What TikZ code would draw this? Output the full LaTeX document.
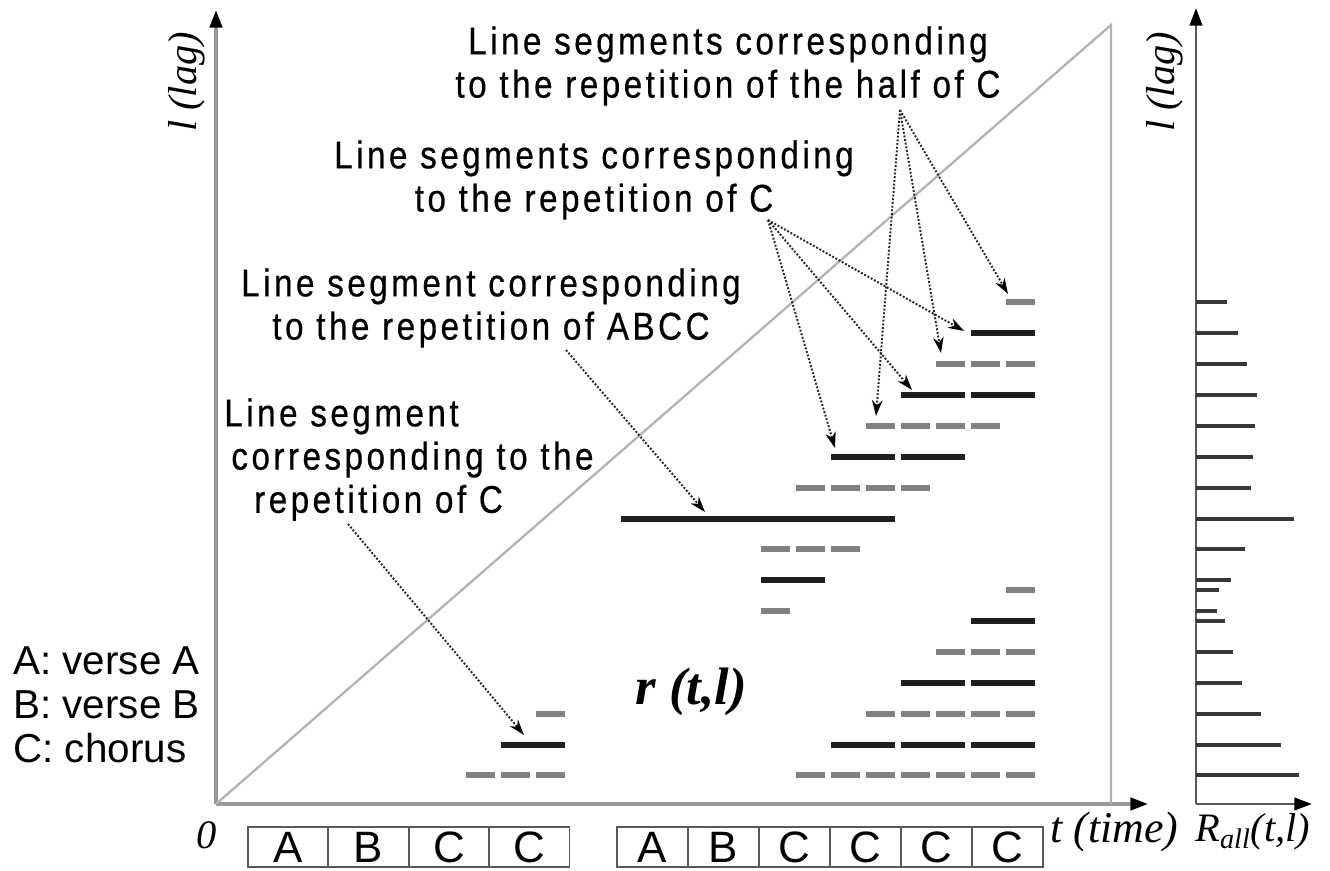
\documentclass[tikz,border=0pt]{standalone}
\usepackage{fontspec}
\setmainfont{Liberation Serif}
\setsansfont{Liberation Sans}
\newfontfamily\notefont{Liberation Sans}[FakeStretch=0.86,LetterSpace=9,FakeBold=0.5]
\usetikzlibrary{arrows.meta,positioning}

\begin{document}
\begin{tikzpicture}[
    x=0.02cm, y=-0.02cm,
    axis/.style={line width=2pt, draw=black!40, -{Triangle[length=10pt,width=7pt,color=black]}},
    raxis/.style={line width=1.6pt, draw=black!65, -{Triangle[length=10pt,width=7pt,color=black]}},
    guide/.style={line width=1.3pt, draw=black!30},
    half/.style={line width=3.4pt, draw=black!50},
    full/.style={line width=3.6pt, draw=black!88},
    bar/.style={line width=1.8pt, draw=black!78},
    note/.style={font=\notefont\fontsize{22}{24.6}\selectfont, align=center, inner sep=0pt},
    legend/.style={font=\sffamily\fontsize{23}{25}\selectfont, align=left, inner sep=0pt},
    pointer/.style={densely dotted, line width=1.1pt, draw=black!85, -{Stealth[length=9pt,width=6pt,color=black]}},
    axislabel/.style={font=\itshape\fontsize{23}{26}\selectfont, inner sep=0pt},
    part/.style={draw=black!65, line width=0.9pt, minimum height=0.8cm, inner sep=0pt, outer sep=0pt, font=\sffamily\fontsize{25}{25}\selectfont},
]
\useasboundingbox (0,0) rectangle (1330,871);

% Axes of r(t,l)
\coordinate (O) at (216,804);
\coordinate (ltop) at (216,10);
\coordinate (tend) at (1148,804);
\draw[axis] (O) -- (ltop);
\draw[axis] (O) -- (tend);
\draw[guide] (O) -- (1111,25) -- (1111,804);

% Axes of R_all
\coordinate (O2) at (1196,804);
\coordinate (rtop) at (1196,8);
\coordinate (rend) at (1312,804);
\draw[raxis] (O2) -- (rtop);
\draw[raxis] (O2) -- (rend);

% Labels
\node[axislabel, rotate=90] (lagleft) at (187,82) {l (lag)};
\node[axislabel, rotate=90] (lagright) at (1165,82) {l (lag)};
\node[axislabel] (zero) at (207,835) {0};
\node[axislabel, anchor=west, font=\itshape\fontsize{25}{26}\selectfont] (time) at (1050,832) {t (time)};
\node[axislabel, anchor=west] (rall) at (1195,832) {R\textsubscript{all}(t,l)};
\node[font=\bfseries\itshape\fontsize{30}{30}\selectfont] (rtl) at (691,692) {r (t,l)};

% Legend
\node[legend, anchor=north west] (key) at (13,646) {A: verse A\\B: verse B\\C: chorus};

% Song structure
\node[part, minimum width=1.61cm] (l1) at (288,847) {A};
\node[part, minimum width=1.61cm, right=0pt of l1] (l2) {B};
\node[part, minimum width=1.61cm, right=0pt of l2] (l3) {C};
\node[part, minimum width=1.61cm, right=0pt of l3] (l4) {C};
\node[part, minimum width=1.42cm] (r1) at (652.5,847) {A};
\node[part, minimum width=1.42cm, right=0pt of r1] (r2) {B};
\node[part, minimum width=1.42cm, right=0pt of r2] (r3) {C};
\node[part, minimum width=1.42cm, right=0pt of r3] (r4) {C};
\node[part, minimum width=1.42cm, right=0pt of r4] (r5) {C};
\node[part, minimum width=1.42cm, right=0pt of r5] (r6) {C};

% Line segments (half of C, gray)
\foreach \y/\a/\b in {775/5/11, 714/7/11, 652/9/11, 590/11/11, 611/4/4, 549/4/6, 488/5/8, 426/7/10, 364/9/11, 302/11/11}
  \foreach \t in {\a,...,\b}
    \draw[half] ({618+35*\t+3},\y) -- ({618+35*\t+32},\y);
\foreach \t in {3,4,5}
  \draw[half] ({358+35*\t+3},775) -- ({358+35*\t+32},775);
\draw[half] (536,714) -- (565,714);

% Line segments (C, black)
\foreach \y/\ts in {745/{6,8,10}, 683/{8,10}, 621/{10}, 580/{4}, 457/{6,8}, 395/{8,10}, 333/{10}}
  \foreach \t in \ts
    \draw[full] ({618+35*\t+3},\y) -- ({618+35*\t+67},\y);
\draw[full] (501,745) -- (565,745);
\draw[full] (621,519) -- (895,519);

% R_all
\foreach \y/\len in {302/31, 333/42, 364/51, 395/61, 426/59, 457/57, 488/55, 519/98, 549/49, 580/35, 590/23, 611/21, 621/29, 652/37, 683/46, 714/65, 745/85, 775/103}
  \draw[bar] (1196,\y) -- ++(\len,0);

% Notes
\node[note, anchor=north] (halfnote) at (728,26) {Line segments corresponding\\to the repetition of the half of C};
\node[note, anchor=north] (cnote) at (594,140) {Line segments corresponding\\to the repetition of C};
\node[note, anchor=north] (abccnote) at (491,268) {Line segment corresponding\\to the repetition of ABCC};
\node[note, anchor=north west, align=left] (leftnote) at (224,398) {Line segment\\\hspace*{4pt}corresponding to the\\\hspace*{17pt}repetition of C};

% Pointers
\coordinate (halfC) at (900,110);
\coordinate (h1) at (876,416);
\coordinate (h2) at (941,353);
\coordinate (h3) at (1008,294);
\coordinate (fullC) at (768,220);
\coordinate (c1) at (835,448);
\coordinate (c2) at (912,390);
\coordinate (c3) at (964,331);
\coordinate (abcc) at (566,350);
\coordinate (abccseg) at (705,512);
\coordinate (leftC) at (348,524);
\coordinate (leftseg) at (524,735);
\draw[pointer] (halfC) -- (h1);
\draw[pointer] (halfC) -- (h2);
\draw[pointer] (halfC) -- (h3);
\draw[pointer] (fullC) -- (c1);
\draw[pointer] (fullC) -- (c2);
\draw[pointer] (fullC) -- (c3);
\draw[pointer] (abcc) -- (abccseg);
\draw[pointer] (leftC) -- (leftseg);

\end{tikzpicture}
\end{document}
